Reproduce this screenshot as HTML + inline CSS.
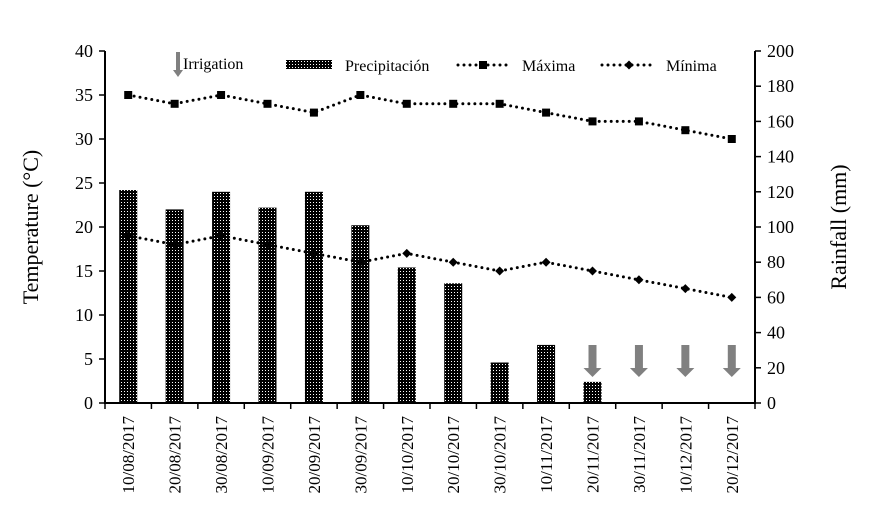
<!DOCTYPE html>
<html><head><meta charset="utf-8"><style>
html,body{margin:0;padding:0;background:#fff;}
svg{display:block;font-family:"Liberation Serif",serif;}
</style></head><body>
<svg id="chart" width="872" height="531" viewBox="0 0 872 531">
<defs>
<pattern id="dots" width="3" height="3" patternUnits="userSpaceOnUse">
<rect width="3" height="3" fill="#000"/><rect x="1" y="1" width="1" height="1" fill="#fff"/>
</pattern>
</defs>
<g id="plot"></g>
</svg>
<script>
const categories=["10/08/2017","20/08/2017","30/08/2017","10/09/2017","20/09/2017","30/09/2017","10/10/2017","20/10/2017","30/10/2017","10/11/2017","20/11/2017","30/11/2017","10/12/2017","20/12/2017"];
const rainfall=[121,110,120,111,120,101,77,68,23,33,12,0,0,0];
const maxima=[35,34,35,34,33,35,34,34,34,33,32,32,31,30];
const minima=[19,18,19,18,17,16,17,16,15,16,15,14,13,12];
const irrigation=[10,11,12,13];
const leftTicks=[0,5,10,15,20,25,30,35,40];
const rightTicks=[0,20,40,60,80,100,120,140,160,180,200];

const NS="http://www.w3.org/2000/svg";
const g=document.getElementById('plot');
const X0=105,X1=755,Y0=403,Y1=51;
const bw=(X1-X0)/categories.length;
const xc=i=>X0+bw*(i+0.5);
const yT=v=>Y0-(v/40)*(Y0-Y1);
const yR=v=>Y0-(v/200)*(Y0-Y1);
function el(t,a,txt){const e=document.createElementNS(NS,t);for(const k in a)e.setAttribute(k,a[k]);if(txt!=null)e.textContent=txt;g.appendChild(e);return e;}

rainfall.forEach((v,i)=>{if(v<=0)return;
const r=el('rect',{x:xc(i)-9,y:yR(v),width:18,height:Y0-yR(v),fill:'url(#dots)'});

});

function series(vals,name,marker){
const pts=vals.map((v,i)=>xc(i)+','+yT(v)).join(' ');
const l=el('polyline',{points:pts,fill:'none',stroke:'#000','stroke-width':3,'stroke-dasharray':'0 6','stroke-linecap':'round'});


vals.forEach((v,i)=>{let m;
if(marker==='sq')m=el('rect',{x:xc(i)-4,y:yT(v)-4,width:8,height:8,fill:'#000'});
else m=el('polygon',{points:`${xc(i)},${yT(v)-4.5} ${xc(i)+4.5},${yT(v)} ${xc(i)},${yT(v)+4.5} ${xc(i)-4.5},${yT(v)}`,fill:'#000'});

});
}
series(maxima,'maxima','sq');
series(minima,'minima','dia');

function arrow(x,yt,name){
const a=el('polygon',{points:`${x-4},${yt} ${x+4},${yt} ${x+4},${yt+23} ${x+9},${yt+23} ${x},${yt+32} ${x-9},${yt+23} ${x-4},${yt+23}`,fill:'#808080'});

}
irrigation.forEach(i=>arrow(xc(i),345,'irrigation-arrow-'+(i+1)));

// axes
let e=el('line',{x1:X0,y1:Y1,x2:X0,y2:Y0,stroke:'#000','stroke-width':2});

e=el('line',{x1:X1,y1:Y1,x2:X1,y2:Y0,stroke:'#000','stroke-width':2});

e=el('line',{x1:X0-1,y1:Y0,x2:X1+1,y2:Y0,stroke:'#000','stroke-width':2});

leftTicks.forEach(t=>{el('line',{x1:X0-6,y1:yT(t),x2:X0,y2:yT(t),stroke:'#000','stroke-width':1.5});
const tx=el('text',{x:X0-12,y:yT(t)+6,'text-anchor':'end','font-size':18},t);
});
rightTicks.forEach(t=>{el('line',{x1:X1,y1:yR(t),x2:X1+6,y2:yR(t),stroke:'#000','stroke-width':1.5});
const tx=el('text',{x:X1+12,y:yR(t)+6,'font-size':18},t);
});
for(let i=0;i<=categories.length;i++)el('line',{x1:X0+bw*i,y1:Y0,x2:X0+bw*i,y2:Y0+6,stroke:'#000','stroke-width':1.5});
categories.forEach((c,i)=>{const tx=el('text',{x:0,y:0,transform:`translate(${xc(i)+6},416) rotate(-90)`,'text-anchor':'end','font-size':17},c);
});

e=el('text',{x:0,y:0,transform:'translate(38,227) rotate(-90)','text-anchor':'middle','font-size':22},'Temperature (°C)');

e=el('text',{x:0,y:0,transform:'translate(846,227) rotate(-90)','text-anchor':'middle','font-size':22},'Rainfall (mm)');


// legend
e=el('polygon',{points:'176,52 180,52 180,70 183,70 178,77 173,70 176,70',fill:'#808080'});

e=el('text',{x:183,y:69,'font-size':16},'Irrigation');

el('rect',{x:286,y:60,width:46,height:9,fill:'url(#dots)'});
e=el('text',{x:345,y:71,'font-size':16},'Precipitación');

el('line',{x1:458,y1:65,x2:508,y2:65,stroke:'#000','stroke-width':3,'stroke-dasharray':'0 6','stroke-linecap':'round'});
el('rect',{x:479,y:61,width:8,height:8,fill:'#000'});
e=el('text',{x:522,y:71,'font-size':16},'Máxima');

el('line',{x1:602,y1:65,x2:656,y2:65,stroke:'#000','stroke-width':3,'stroke-dasharray':'0 6','stroke-linecap':'round'});
el('polygon',{points:'629,60.5 633.5,65 629,69.5 624.5,65',fill:'#000'});
e=el('text',{x:666,y:71,'font-size':16},'Mínima');

</script>
</body></html>
